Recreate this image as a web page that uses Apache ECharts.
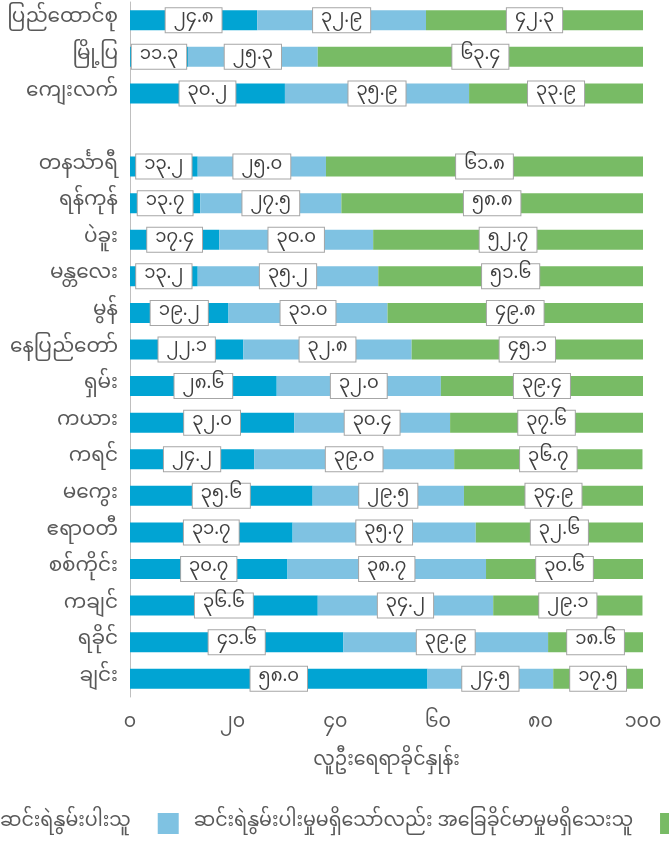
<!DOCTYPE html>
<html>
<head>
<meta charset="utf-8">
<script src="https://cdn.jsdelivr.net/npm/echarts@6/dist/echarts.min.js"></script>
<style>
  html, body { margin: 0; padding: 0; background: #fff; }
  #chart { width: 669px; height: 843px; }
</style>
</head>
<body>
<div id="chart"></div>
<script>
// categories (top to bottom), blank row separates union/urban/rural from states
var categories = ['ပြည်ထောင်စု', 'မြို့ပြ', 'ကျေးလက်', '',
  'တနင်္သာရီ', 'ရန်ကုန်', 'ပဲခူး', 'မန္တလေး', 'မွန်', 'နေပြည်တော်', 'ရှမ်း', 'ကယား',
  'ကရင်', 'မကွေး', 'ဧရာဝတီ', 'စစ်ကိုင်း', 'ကချင်', 'ရခိုင်', 'ချင်း'];

var poor = [24.8, 11.3, 30.2, null, 13.2, 13.7, 17.4, 13.2, 19.2, 22.1, 28.6, 32.0, 24.2, 35.6, 31.7, 30.7, 36.6, 41.6, 58.0];
var vulnerable = [32.9, 25.3, 35.9, null, 25.0, 27.5, 30.0, 35.2, 31.0, 32.8, 32.0, 30.4, 39.0, 29.5, 35.7, 38.7, 34.2, 39.9, 24.5];
var secure = [42.3, 63.4, 33.9, null, 61.8, 58.8, 52.7, 51.6, 49.8, 45.1, 39.4, 37.6, 36.7, 34.9, 32.6, 30.6, 29.1, 18.6, 17.5];

var seriesNames = ['ဆင်းရဲနွမ်းပါးသူ', 'ဆင်းရဲနွမ်းပါးမှုမရှိသော်လည်း အခြေခိုင်မာမှုမရှိသေးသူ', 'အခြေခိုင်မာသူ'];
var xTicks = [0, 20, 40, 60, 80, 100];
var axisTitle = 'လူဦးရေရာခိုင်နှုန်း';

var FONT = '"Noto Sans Myanmar", "Padauk", "Myanmar Text", "Noto Sans", sans-serif';
var MY_DIGITS = '၀၁၂၃၄၅၆၇၈၉';
function toMy(s) {
  return String(s).replace(/[0-9]/g, function (d) { return MY_DIGITS[+d]; });
}

var labelBox = {
  show: true,
  position: 'inside',
  color: '#404040',
  fontSize: 18,
  fontFamily: FONT,
  backgroundColor: '#fff',
  borderColor: '#A6A6A6',
  borderWidth: 1,
  padding: [3, 8],
  formatter: function (p) { return p.value == null ? '' : toMy(p.value.toFixed(1)); }
};

function mkSeries(name, data, color) {
  return {
    name: name,
    type: 'bar',
    stack: 'total',
    barWidth: 20,
    data: data,
    itemStyle: { color: color },
    label: labelBox
  };
}

var myChart = echarts.init(document.getElementById('chart'));
myChart.setOption({
  animation: false,
  textStyle: { fontFamily: FONT },
  grid: { left: 130, right: 26, top: 2, bottom: 146 },
  legend: {
    left: -36,
    bottom: 9,
    width: 2000,
    padding: 0,
    icon: 'rect',
    itemWidth: 21,
    itemHeight: 21,
    itemGap: 27,
    textStyle: { color: '#595959', fontSize: 19, fontFamily: FONT, padding: [0, 0, 0, 10] },
    data: seriesNames
  },
  xAxis: {
    type: 'value',
    min: 0,
    max: 100,
    interval: 20,
    axisLine: { show: false },
    axisTick: { show: false },
    splitLine: { show: false },
    axisLabel: {
      color: '#595959',
      fontSize: 19,
      margin: 18,
      formatter: function (v) { return xTicks.indexOf(v) >= 0 ? toMy(v) : ''; }
    },
    name: axisTitle,
    nameLocation: 'middle',
    nameGap: 56,
    nameTextStyle: { color: '#595959', fontSize: 19, fontFamily: FONT }
  },
  yAxis: {
    type: 'category',
    inverse: true,
    data: categories,
    axisLine: { lineStyle: { color: '#BFBFBF', width: 1 } },
    axisTick: { show: false },
    axisLabel: { color: '#595959', fontSize: 20, margin: 12, fontFamily: FONT }
  },
  series: [
    mkSeries(seriesNames[0], poor, '#01A4D3'),
    mkSeries(seriesNames[1], vulnerable, '#7FC2E2'),
    mkSeries(seriesNames[2], secure, '#78BB65')
  ]
});
</script>
</body>
</html>
